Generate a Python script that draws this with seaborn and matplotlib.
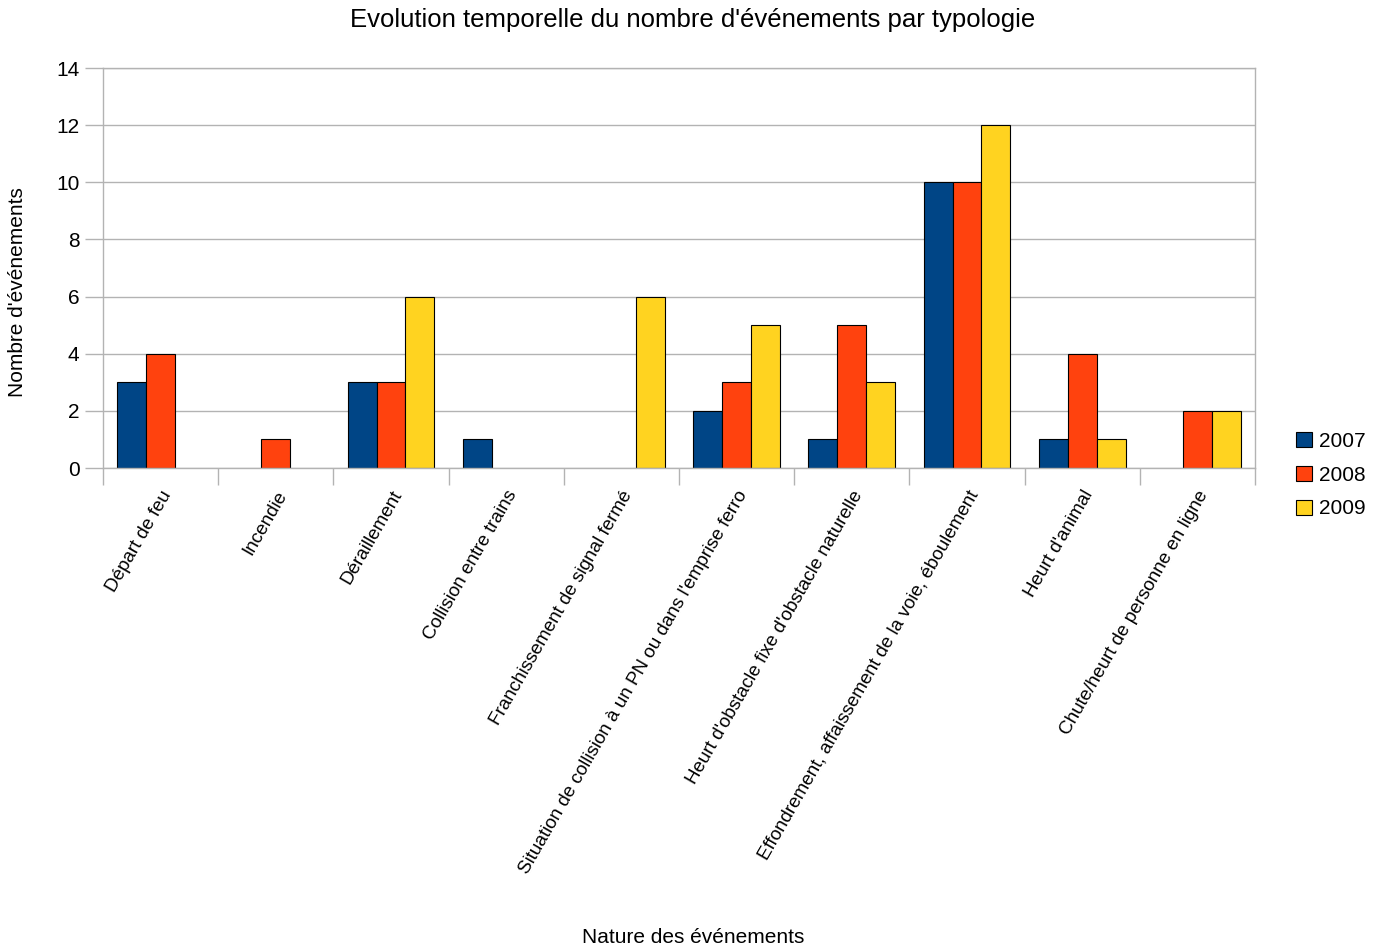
import matplotlib
matplotlib.use("Agg")
import matplotlib.pyplot as plt
import matplotlib.transforms as mtransforms
import seaborn as sns
import pandas as pd
import numpy as np

categories = [
    "Départ de feu",
    "Incendie",
    "Déraillement",
    "Collision entre trains",
    "Franchissement de signal fermé",
    "Situation de collision à un PN ou dans l'emprise ferro",
    "Heurt d'obstacle fixe d'obstacle naturelle",
    "Effondrement, affaissement de la voie, éboulement",
    "Heurt d'animal",
    "Chute/heurt de personne en ligne",
]
years = ["2007", "2008", "2009"]
values_2007 = [3, 0, 3, 1, 0, 2, 1, 10, 1, 0]
values_2008 = [4, 1, 3, 0, 0, 3, 5, 10, 4, 2]
values_2009 = [0, 0, 6, 0, 6, 5, 3, 12, 1, 2]
colors = ["#004586", "#ff420e", "#ffd320"]

sns.set_theme(style="white")
plt.rcParams["font.family"] = ["Liberation Sans", "DejaVu Sans"]
plt.rcParams["text.color"] = "black"
plt.rcParams["xtick.color"] = "black"
plt.rcParams["ytick.color"] = "black"

df = pd.DataFrame({
    "Nature": categories * 3,
    "Année": [y for y in years for _ in categories],
    "Nombre": values_2007 + values_2008 + values_2009,
})
# empty bars are left out so no zero-height outline is drawn
df_plot = df[df["Nombre"] > 0]

fig = plt.figure(figsize=(13.84, 9.47), dpi=100)
ax = fig.add_axes([103 / 1384, 1 - 468 / 947, (1255 - 103) / 1384, (468 - 68) / 947])

sns.barplot(
    data=df_plot, x="Nature", y="Nombre", hue="Année",
    order=categories, hue_order=years, palette=colors, saturation=1,
    width=0.755, edgecolor="black", linewidth=0.8, ax=ax, legend=False,
)

grid_color = "#b3b3b3"
ax.set_ylim(0, 14)
ax.set_xlim(-0.5, len(categories) - 0.5)
ax.set_yticks(np.arange(0, 15, 2))
ax.yaxis.grid(True, color=grid_color, linewidth=1)
ax.set_axisbelow(True)
for s in ax.spines.values():
    s.set_color(grid_color)
    s.set_linewidth(1)

# group boundaries as major ticks, category names on minor ticks
ax.set_xticks(np.arange(-0.5, len(categories), 1.0))
ax.set_xticklabels([])
ax.set_xticks(np.arange(len(categories)), minor=True)
ax.set_xticklabels(categories, minor=True, rotation=60, ha="right",
                   rotation_mode="anchor", fontsize=13.6)
shift = mtransforms.ScaledTranslation(-6 / 100, 0, fig.dpi_scale_trans)
for lab in ax.get_xticklabels(minor=True):
    lab.set_transform(lab.get_transform() + shift)
ax.tick_params(axis="x", which="major", direction="out", length=12,
               color=grid_color, width=1, bottom=True)
ax.tick_params(axis="x", which="minor", length=0, pad=14)
ax.tick_params(axis="y", direction="out", length=13, color=grid_color,
               width=1, left=True, labelsize=15, pad=4)

ax.set_xlabel("")
ax.set_ylabel("")
fig.text(18 / 1384, 1 - 292 / 947, "Nombre d'événements", rotation=90,
         ha="center", va="center", fontsize=15)
fig.text(693 / 1384, 1 - 937 / 947, "Nature des événements",
         ha="center", va="center", fontsize=15)
fig.text(693 / 1384, 1 - 20 / 947,
         "Evolution temporelle du nombre d'événements par typologie",
         ha="center", va="center", fontsize=18.5)

handles = [plt.Rectangle((0, 0), 1, 1, facecolor=c, edgecolor="black", linewidth=0.8)
           for c in colors]
fig.legend(handles, years, loc="center left",
           bbox_to_anchor=(1288 / 1384, 1 - 475 / 947),
           frameon=False, fontsize=15, handlelength=0.75, handleheight=0.75,
           handletextpad=0.35, labelspacing=0.72, borderaxespad=0)

fig.savefig("out.png", dpi=100)
